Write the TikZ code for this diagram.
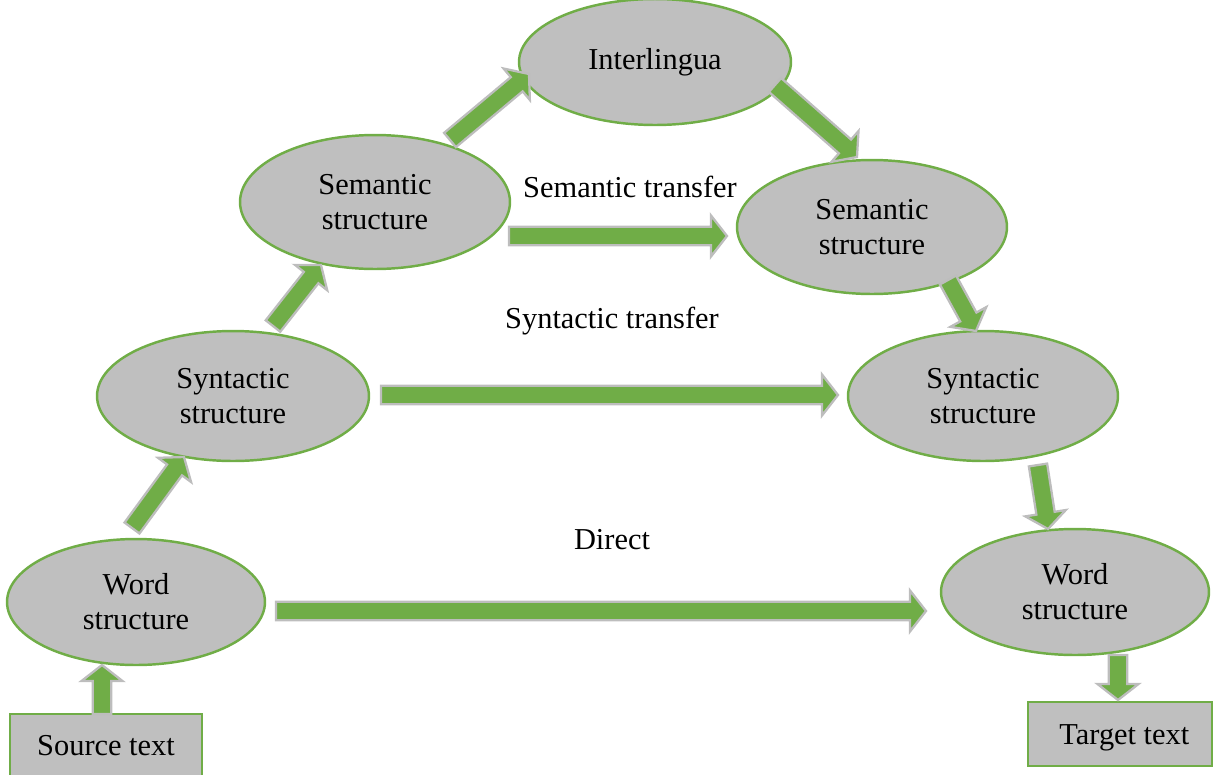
\documentclass[tikz,border=0pt]{standalone}
\usepackage{fontspec}
\setmainfont{Liberation Serif}
\usetikzlibrary{shapes.geometric,calc}

\definecolor{leafgreen}{HTML}{70AD47}
\definecolor{stonegray}{HTML}{BFBFBF}
\definecolor{rimgray}{HTML}{BDBDBD}

% block arrow from coordinate #1 to coordinate #2
\newcommand\blockarrow[2]{%
  \coordinate (ba-c) at ($(#2)!0.32cm!(#1)$);
  \draw[fatarrow]
    ($(#1)!0.185cm!90:(#2)$) -- ($(ba-c)!0.185cm!90:(#2)$) --
    ($(ba-c)!0.41cm!90:(#2)$) -- (#2) --
    ($(ba-c)!0.41cm!-90:(#2)$) -- ($(ba-c)!0.185cm!-90:(#2)$) --
    ($(#1)!0.185cm!-90:(#2)$) -- cycle;
}

\begin{document}
\begin{tikzpicture}[x=0.02cm,y=-0.02cm,
  txt/.style={font=\fontsize{17.3}{20}\selectfont, align=center},
  level/.style={txt, ellipse, fill=stonegray, draw=leafgreen, line width=1.4pt, inner sep=0pt},
  endbox/.style={txt, rectangle, fill=stonegray, draw=leafgreen, line width=1.4pt, inner sep=0pt},
  fatarrow/.style={fill=leafgreen, draw=rimgray, line width=1.3pt, line join=miter}]
\useasboundingbox (0,0) rectangle (1215,775);

% ellipses for the analysis levels
\node[level, minimum width=5.44cm, minimum height=2.52cm] (inter) at (655,62) {Interlingua};
\node[level, minimum width=5.40cm, minimum height=2.68cm] (semL) at (375,202) {Semantic\\structure};
\node[level, minimum width=5.40cm, minimum height=2.68cm] (semR) at (872,227) {Semantic\\structure};
\node[level, minimum width=5.44cm, minimum height=2.60cm] (synL) at (233,396) {Syntactic\\structure};
\node[level, minimum width=5.40cm, minimum height=2.60cm] (synR) at (983,396) {Syntactic\\structure};
\node[level, minimum width=5.16cm, minimum height=2.52cm] (wordL) at (136,602) {Word\\structure};
\node[level, minimum width=5.36cm, minimum height=2.52cm] (wordR) at (1075,592) {Word\\structure};

% source and target boxes
\node[endbox, minimum width=3.84cm, minimum height=1.28cm] (src) at (106,746) {Source text};
\node[endbox, minimum width=3.68cm, minimum height=1.28cm] (tgt) at (1120,734) {\hspace{5pt}\smash{\raisebox{-5.7pt}{Target text}}};

% transfer labels
\node[txt] (lsem) at (630,187) {Semantic transfer};
\node[txt] (lsyn) at (612,321) {Syntactic transfer};
\node[txt] (ldir) at (612,540) {Direct};

% arrow end points
\coordinate (a1s) at (102,714);  \coordinate (a1e) at (102,665);
\coordinate (a2s) at (132,528);  \coordinate (a2e) at (184,457);
\coordinate (a3s) at (273,326);  \coordinate (a3e) at (321,265);
\coordinate (a4s) at (450,140);  \coordinate (a4e) at (529,74);
\coordinate (a5s) at (775,85);   \coordinate (a5e) at (857,157);
\coordinate (a6s) at (948,280);  \coordinate (a6e) at (976,331);
\coordinate (a7s) at (1038,465); \coordinate (a7e) at (1048,529);
\coordinate (a8s) at (1118,655); \coordinate (a8e) at (1118,700);
\coordinate (hs1) at (509,236);  \coordinate (hs2) at (727,236);
\coordinate (hy1) at (381,395);  \coordinate (hy2) at (838,395);
\coordinate (hd1) at (276,611);  \coordinate (hd2) at (926,611);

% analysis and generation arrows
\blockarrow{a1s}{a1e}
\blockarrow{a2s}{a2e}
\blockarrow{a3s}{a3e}
\blockarrow{a4s}{a4e}
\blockarrow{a5s}{a5e}
\blockarrow{a6s}{a6e}
\blockarrow{a7s}{a7e}
\blockarrow{a8s}{a8e}

% transfer arrows
\blockarrow{hs1}{hs2}
\blockarrow{hy1}{hy2}
\blockarrow{hd1}{hd2}
\end{tikzpicture}
\end{document}
